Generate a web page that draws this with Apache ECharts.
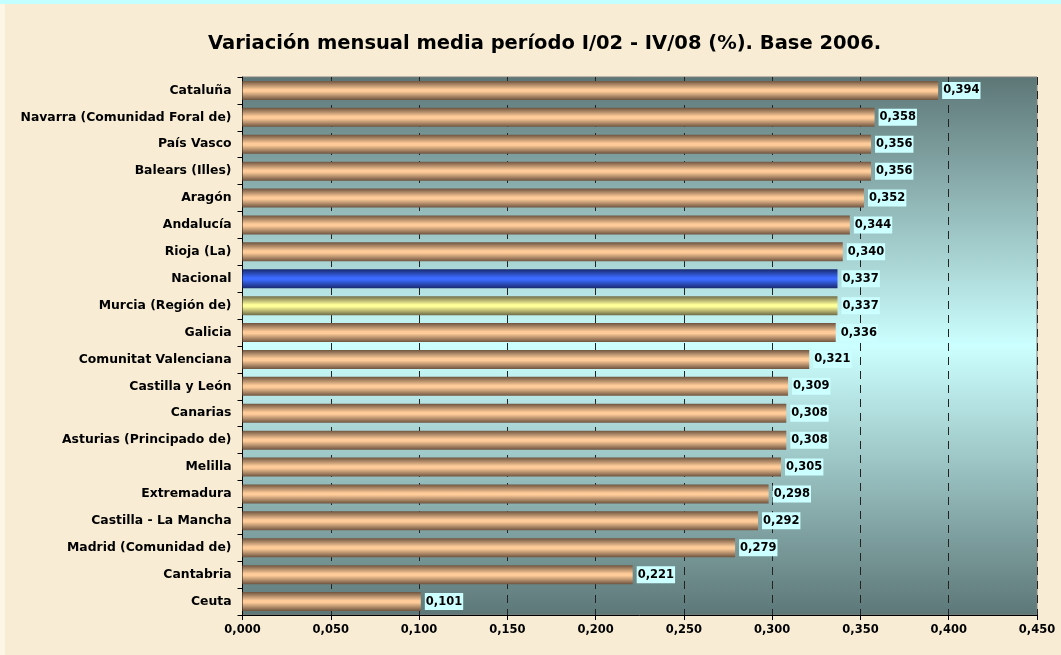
<!DOCTYPE html>
<html>
<head>
<meta charset="utf-8">
<script src="https://cdn.jsdelivr.net/npm/echarts@6/dist/echarts.min.js"></script>
<style>
  html, body { margin: 0; padding: 0; }
  #chart { width: 1061px; height: 655px; }
</style>
</head>
<body>
<div id="chart"></div>
<script>
// regiones, de arriba a abajo
var regions = ['Cataluña', 'Navarra (Comunidad Foral de)', 'País Vasco', 'Balears (Illes)', 'Aragón',
    'Andalucía', 'Rioja (La)', 'Nacional', 'Murcia (Región de)', 'Galicia', 'Comunitat Valenciana',
    'Castilla y León', 'Canarias', 'Asturias (Principado de)', 'Melilla', 'Extremadura',
    'Castilla - La Mancha', 'Madrid (Comunidad de)', 'Cantabria', 'Ceuta'];
var values = [0.394, 0.358, 0.356, 0.356, 0.352, 0.344, 0.340, 0.337, 0.337, 0.336, 0.321,
    0.309, 0.308, 0.308, 0.305, 0.298, 0.292, 0.279, 0.221, 0.101];
var xTicks = { min: 0, max: 0.45, interval: 0.05 };

function fmt(v) {
    return v.toFixed(3).replace('.', ',');
}
function band(edge, mid) {
    return new echarts.graphic.LinearGradient(0, 0, 0, 1, [
        { offset: 0, color: edge },
        { offset: 0.45, color: mid },
        { offset: 0.55, color: mid },
        { offset: 1, color: edge }
    ]);
}

var chart = echarts.init(document.getElementById('chart'));
var option = {
    backgroundColor: '#f8edd4',
    textStyle: { fontFamily: 'DejaVu Sans, sans-serif' },
    graphic: [{
        type: 'rect',
        shape: { x: 0, y: 0, width: 1061, height: 4 },
        style: { fill: '#c4ffff' },
        silent: true
    }, {
        type: 'rect',
        shape: { x: 0, y: 4, width: 5, height: 651 },
        style: { fill: '#fdf6e6' },
        silent: true
    }],
    title: {
        text: 'Variación mensual media período I/02 - IV/08 (%). Base 2006.',
        left: 203,
        top: 29,
        textStyle: { fontSize: 19.5, fontWeight: 'bold', color: '#000' }
    },
    grid: {
        left: 242.5, right: 24, top: 77, bottom: 40,
        show: true,
        borderColor: '#808080',
        borderWidth: 1,
        backgroundColor: new echarts.graphic.LinearGradient(0, 0, 0, 1, [
            { offset: 0, color: '#5d7676' },
            { offset: 0.5, color: '#ccffff' },
            { offset: 1, color: '#5d7777' }
        ])
    },
    xAxis: {
        type: 'value',
        min: xTicks.min, max: xTicks.max, interval: xTicks.interval,
        axisLine: { show: true, lineStyle: { color: '#000' } },
        axisTick: { show: true, length: 5, lineStyle: { color: '#000' } },
        axisLabel: {
            formatter: fmt, color: '#000', fontWeight: 'bold', fontSize: 11.5, margin: 9
        },
        splitLine: { show: true, lineStyle: { color: '#222', type: [8, 6], width: 1 } }
    },
    yAxis: {
        type: 'category',
        data: regions,
        inverse: true,
        axisLine: { show: true, lineStyle: { color: '#000' } },
        axisTick: { show: true, length: 5, lineStyle: { color: '#000' } },
        axisLabel: { color: '#000', fontWeight: 'bold', fontSize: 12.4, margin: 11 }
    },
    series: [{
        type: 'bar',
        barWidth: 19,
        data: values.map(function (v, i) {
            var name = regions[i], color;
            if (name === 'Nacional') color = band('#18296e', '#3c6cff');
            else if (name === 'Murcia (Región de)') color = band('#6e6a48', '#ffff99');
            else color = band('#6e5440', '#ffcc99');
            return { value: v, itemStyle: { color: color } };
        }),
        label: {
            show: true,
            position: 'right',
            distance: 4,
            formatter: function (p) { return fmt(p.value); },
            color: '#000',
            fontWeight: 'bold',
            fontSize: 11.5,
            backgroundColor: '#ccffff',
            padding: [3, 1, 2, 1]
        }
    }]
};
chart.setOption(option);
</script>
</body>
</html>
